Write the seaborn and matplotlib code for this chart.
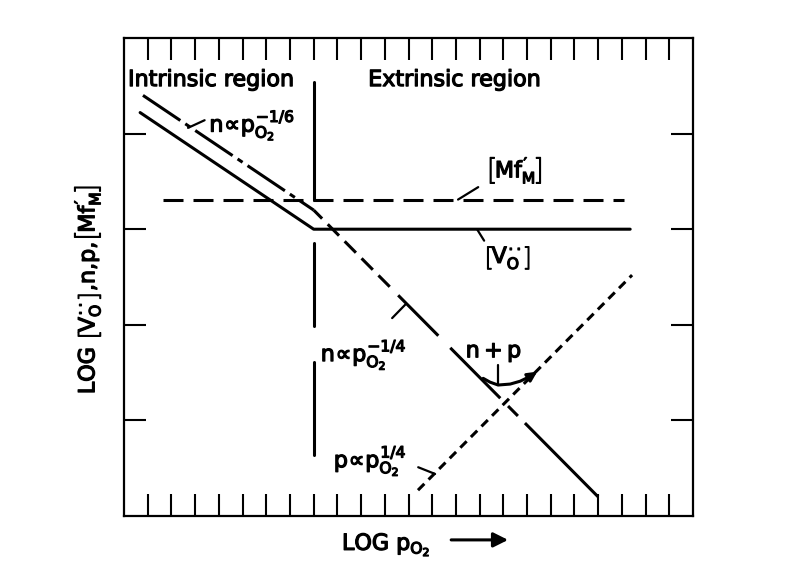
import pandas as pd
import seaborn as sns
import matplotlib.pyplot as plt
import matplotlib.patheffects as pe

# x: log pO2 (one unit per tick), y: log concentration (one unit per tick)
vo_x = [0.68, 8.0, 21.35]          # [Vo..] solid line
vo_y = [4.22, 3.0, 3.0]

mf_x = [1.65, 21.1]                # [Mf'M] dashed line
mf_y = [3.31, 3.31]

n_intr_x = [0.8, 8.0]              # n ~ pO2^-1/6, dash-dot
n_intr_y = [4.4, 3.2]

n_extr_x = [8.0, 20.0]             # n ~ pO2^-1/4
n_extr_y = [3.2, 0.2]

p_x = [12.4, 21.43]                # p ~ pO2^1/4, short dashes
p_y = [0.27, 2.52]

np_x = [15.15, 15.44, 15.78, 16.29, 16.71, 17.13, 17.43]   # n+p curve
np_y = [1.44, 1.40, 1.37, 1.38, 1.41, 1.46, 1.51]

boundary_x = 8.0
boundary_spans = [(4.54, 3.31), (2.86, 1.99), (1.61, 0.64)]

leaders = [((2.7, 4.06), (3.4, 4.14)),
           ((14.09, 3.31), (14.94, 3.44)),
           ((14.89, 3.0), (15.19, 2.88)),
           ((11.31, 2.07), (11.86, 2.21)),
           ((12.41, 0.51), (13.12, 0.44)),
           ((15.78, 1.58), (15.78, 1.38))]

labels = [('Intrinsic region', 0.17, 4.56, 'left', 'center'),
          ('Extrinsic region', 10.3, 4.56, 'left', 'center'),
          (r'$n\!\propto\!p_{O_2}^{-1/6}$', 3.6, 4.02, 'left', 'baseline'),
          (r'$\left[Mf_{M}^{\prime}\right]$', 16.45, 3.62, 'center', 'center'),
          (r'$\left[V_{O}^{\cdot\cdot}\right]$', 16.16, 2.70, 'center', 'center'),
          (r'$n\!\propto\!p_{O_2}^{-1/4}$', 8.3, 1.62, 'left', 'baseline'),
          (r'$p\!\propto\!p_{O_2}^{1/4}$', 8.85, 0.51, 'left', 'baseline'),
          (r'$n+p$', 15.6, 1.66, 'center', 'baseline')]

sns.set_style('white')
plt.rcParams['font.family'] = ['DejaVu Sans']
plt.rcParams['text.color'] = 'black'
plt.rcParams['mathtext.fontset'] = 'custom'
plt.rcParams['mathtext.rm'] = 'DejaVu Sans'
plt.rcParams['mathtext.it'] = 'DejaVu Sans'
plt.rcParams['lines.scale_dashes'] = False

PX = 0.72  # points per pixel at dpi 100
LW = 2.2
bold = [pe.withStroke(linewidth=0.9, foreground='black')]

fig = plt.figure(figsize=(7.89, 5.86), dpi=100)
ax = fig.add_axes([124 / 789, 70 / 586, 569 / 789, 478 / 586])

sns.lineplot(x=vo_x, y=vo_y, ax=ax, color='black', linewidth=LW)
sns.lineplot(x=mf_x, y=mf_y, ax=ax, color='black', linewidth=LW,
             linestyle=(0, (20 * PX, 10 * PX)))
sns.lineplot(x=n_intr_x, y=n_intr_y, ax=ax, color='black', linewidth=LW,
             linestyle=(0, (45 * PX, 6 * PX, 6 * PX, 6 * PX)))
n_pat = [16, 8, 16, 8, 16, 8, 16, 8, 16, 12, 57, 17, 71, 11, 14, 10, 120, 1]
sns.lineplot(x=n_extr_x, y=n_extr_y, ax=ax, color='black', linewidth=LW,
             linestyle=(4 * PX, tuple(v * PX for v in n_pat)))
sns.lineplot(x=p_x, y=p_y, ax=ax, color='black', linewidth=LW,
             linestyle=(0, (9 * PX, 6 * PX)))
sns.lineplot(x=np_x[:-1], y=np_y[:-1], ax=ax, color='black', linewidth=LW)
ax.annotate('', xy=(np_x[-1], np_y[-1]), xytext=(np_x[-2], np_y[-2]),
            arrowprops=dict(arrowstyle='-|>', color='black', lw=LW,
                            mutation_scale=14, shrinkA=0, shrinkB=0))

for y0, y1 in boundary_spans:
    ax.plot([boundary_x, boundary_x], [y0, y1], color='black', linewidth=LW)

for (x0, y0), (x1, y1) in leaders:
    ax.plot([x0, x1], [y0, y1], color='black', linewidth=1.6)

for txt, x, y, ha, va in labels:
    ax.text(x, y, txt, fontsize=16, ha=ha, va=va, path_effects=bold)

ax.set_xlim(0, 24)
ax.set_ylim(0, 5)
ax.set_xticks(range(1, 24))
ax.set_yticks(range(1, 5))
ax.tick_params(direction='in', length=15.8, width=1.5, color='black',
               top=True, right=True, bottom=True, left=True,
               labelbottom=False, labelleft=False)
for s in ax.spines.values():
    s.set_visible(True)
    s.set_color('black')
    s.set_linewidth(1.6)

fig.text(87 / 789, 1 - 290 / 586,
         r'LOG $\left[V_{O}^{\cdot\cdot}\right]$,n,p,$\left[Mf_{M}^{\prime}\right]$',
         rotation=90, fontsize=16, ha='center', va='center', path_effects=bold)
fig.text(342 / 789, 1 - 550 / 586, r'LOG $p_{O_2}$', fontsize=16,
         ha='left', va='baseline', path_effects=bold)
ax.annotate('', xy=(16.2, -0.25), xytext=(13.8, -0.25),
            xycoords='data', annotation_clip=False,
            arrowprops=dict(arrowstyle='-|>', color='black', lw=2.2,
                            mutation_scale=22, shrinkA=0, shrinkB=0))

fig.savefig('out.png', dpi=100, facecolor='white')
